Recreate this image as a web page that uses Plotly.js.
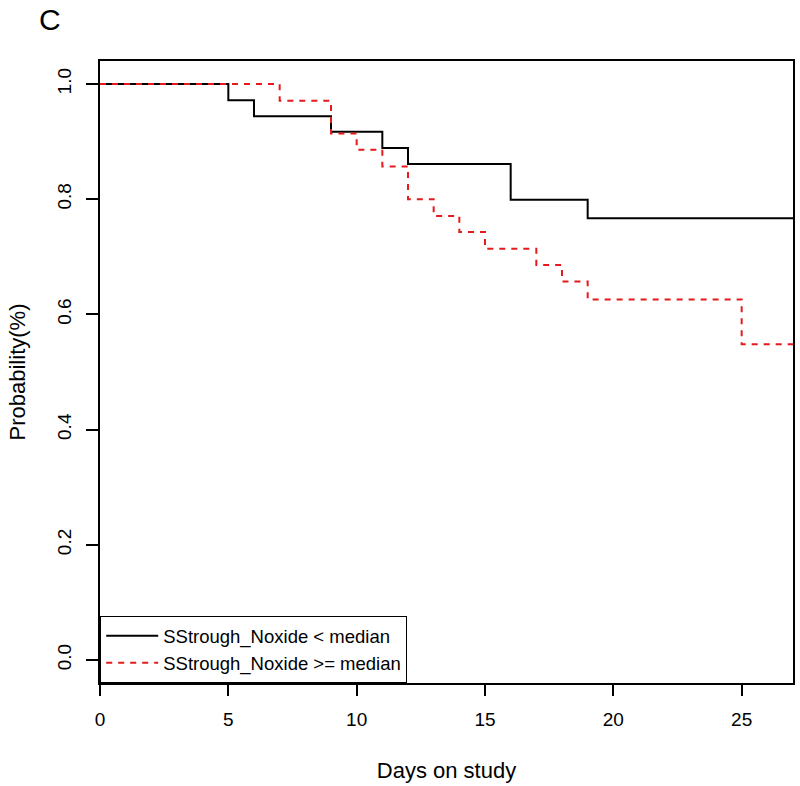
<!DOCTYPE html>
<html>
<head>
<meta charset="utf-8">
<script src="https://cdn.plot.ly/plotly-3.0.1.min.js"></script>
<style>
  body { margin: 0; background: white; }
  #chart { width: 800px; height: 786px; }
</style>
</head>
<body>
<div id="chart"></div>
<script>
// Kaplan-Meier steps
const tiempoBajo = [0, 5, 6, 9, 11, 12, 16, 19, 27];
const survBajo   = [1, 0.972, 0.944, 0.917, 0.889, 0.861, 0.799, 0.767, 0.767];

const tiempoAlto = [0, 7, 9, 10, 11, 12, 13, 14, 15, 17, 18, 19, 25, 27];
const survAlto   = [1, 0.971, 0.914, 0.886, 0.857, 0.800, 0.771, 0.743, 0.714, 0.686, 0.657, 0.626, 0.548, 0.548];

const nombres = ["SStrough_Noxide < median", "SStrough_Noxide >= median"];
const xTicks = [0, 5, 10, 15, 20, 25];
const yTicks = [0.0, 0.2, 0.4, 0.6, 0.8, 1.0];

const fuente = "Liberation Sans, Arial, sans-serif";

const curvaBajo = {
    x: tiempoBajo,
    y: survBajo,
    mode: "lines",
    name: nombres[0],
    line: { color: "black", width: 2, shape: "hv" }
};

const curvaAlto = {
    x: tiempoAlto,
    y: survAlto,
    mode: "lines",
    name: nombres[1],
    line: { color: "#e41a1c", width: 2, shape: "hv", dash: "6px,6px" }
};

const layout = {
    width: 800,
    height: 786,
    margin: { l: 100, r: 7, t: 61, b: 103 },
    paper_bgcolor: "white",
    plot_bgcolor: "white",
    font: { family: fuente, size: 19, color: "black" },
    showlegend: true,
    legend: {
        x: 0, y: 0, xanchor: "left", yanchor: "bottom",
        bordercolor: "black", borderwidth: 1.2,
        bgcolor: "white",
        font: { size: 18.5 },
        itemwidth: 52,
        tracegroupgap: 0
    },
    xaxis: {
        range: [0, 27],
        tickvals: xTicks,
        ticktext: xTicks.map(String),
        ticks: "outside", ticklen: 11, tickwidth: 1.5, tickcolor: "black",
        tickfont: { size: 19 },
        ticklabelstandoff: 7,
        showline: true, mirror: true, linecolor: "black", linewidth: 1.5,
        showgrid: false, zeroline: false,
        title: { text: "Days on study", font: { size: 22 }, standoff: 34 }
    },
    yaxis: {
        range: [-0.04, 1.04],
        tickvals: yTicks,
        ticktext: yTicks.map(v => v.toFixed(1)),
        tickangle: -90,
        ticks: "outside", ticklen: 12, tickwidth: 1.5, tickcolor: "black",
        tickfont: { size: 19 },
        ticklabelstandoff: 8,
        showline: true, mirror: true, linecolor: "black", linewidth: 1.5,
        showgrid: false, zeroline: false,
        title: { text: "Probability(%)", font: { size: 22 }, standoff: 22 }
    },
    annotations: [{
        text: "C",
        xref: "paper", yref: "paper",
        x: -0.072, y: 1.066,
        xanchor: "center", yanchor: "middle",
        showarrow: false,
        font: { size: 30, family: fuente }
    }]
};

Plotly.newPlot("chart", [curvaBajo, curvaAlto], layout, { displayModeBar: false });
</script>
</body>
</html>
